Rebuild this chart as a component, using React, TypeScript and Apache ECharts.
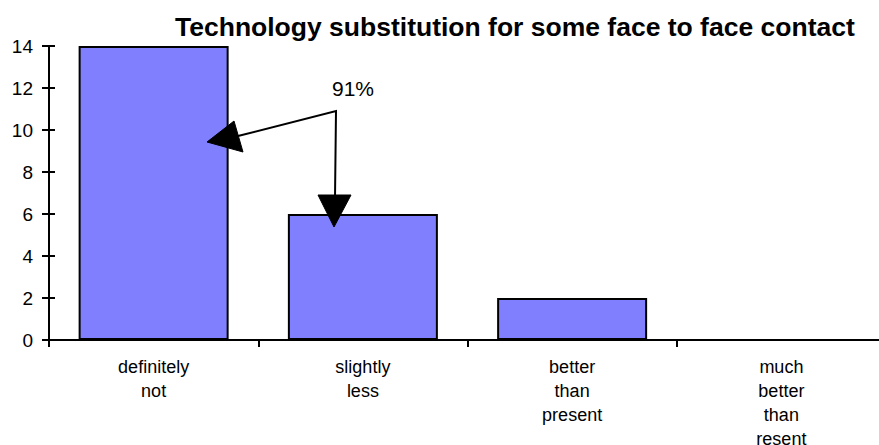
import React, { useEffect, useRef } from "react";
import * as echarts from "echarts";

const categories = [
  "definitely\nnot",
  "slightly\nless",
  "better\nthan\npresent",
  "much\nbetter\nthan\nresent",
];
const counts = [14, 6, 2, 0];
const yMin = 0;
const yMax = 14;
const yStep = 2;
const titleText = "Technology substitution for some face to face contact";
const calloutText = "91%";

const FONT = "'Liberation Sans', Arial, Helvetica, sans-serif";

export default function App() {
  const ref = useRef<HTMLDivElement>(null);

  useEffect(() => {
    if (!ref.current) return;
    const chart = echarts.init(ref.current, undefined, { renderer: "svg" });

    const valueAxisBase = {
      type: "value" as const,
      min: yMin,
      max: yMax,
      interval: yStep,
      splitLine: { show: false },
      axisLine: { show: true, lineStyle: { color: "#000", width: 2 } },
    };
    const catAxisBase = {
      type: "category" as const,
      data: categories,
      boundaryGap: true,
      axisLine: { show: true, lineStyle: { color: "#000", width: 2 } },
    };
    const tickStyle = { color: "#000", width: 2 };

    chart.setOption({
      animation: false,
      backgroundColor: "#fff",
      title: {
        text: titleText,
        left: 170,
        top: 8,
        textStyle: {
          fontFamily: FONT,
          fontWeight: "bold",
          fontSize: 26.5,
          color: "#000",
        },
      },
      grid: {
        left: 49,
        top: 46,
        right: -7,
        bottom: 105,
        containLabel: false,
        outerBoundsMode: "none",
      },
      xAxis: [
        {
          ...catAxisBase,
          axisTick: { show: true, inside: false, length: 7, lineStyle: tickStyle },
          axisLabel: {
            margin: 15,
            fontFamily: FONT,
            fontSize: 18,
            lineHeight: 24,
            color: "#000",
            interval: 0,
          },
        },
        {
          ...catAxisBase,
          axisTick: { show: true, inside: true, length: 6, lineStyle: tickStyle },
          axisLabel: { show: false },
        },
      ],
      yAxis: [
        {
          ...valueAxisBase,
          axisTick: { show: true, inside: false, length: 7, lineStyle: tickStyle },
          axisLabel: {
            margin: 16,
            fontFamily: FONT,
            fontSize: 19,
            color: "#000",
          },
        },
        {
          ...valueAxisBase,
          position: "left",
          axisTick: { show: true, inside: true, length: 6, lineStyle: tickStyle },
          axisLabel: { show: false },
        },
      ],
      series: [
        {
          type: "bar",
          data: counts,
          xAxisIndex: 0,
          yAxisIndex: 0,
          barWidth: 150,
          itemStyle: {
            color: "#8080FF",
            borderColor: "#000",
            borderWidth: 2,
          },
          z: 1,
        },
      ],
      graphic: [
        {
          type: "text",
          x: 353,
          y: 88,
          style: {
            text: calloutText,
            fontFamily: FONT,
            fontSize: 21,
            fill: "#000",
            align: "center",
            verticalAlign: "middle",
          },
          z: 100,
        },
        {
          type: "polyline",
          shape: {
            points: [
              [238, 136],
              [336, 111],
              [335, 198],
            ],
          },
          style: { stroke: "#000", lineWidth: 2, fill: null },
          z: 100,
        },
        {
          type: "polygon",
          shape: {
            points: [
              [207, 142],
              [234, 121],
              [243, 152],
            ],
          },
          style: { fill: "#000", stroke: "#000", lineWidth: 1 },
          z: 100,
        },
        {
          type: "polygon",
          shape: {
            points: [
              [334, 227],
              [318, 195],
              [351, 195],
            ],
          },
          style: { fill: "#000", stroke: "#000", lineWidth: 1 },
          z: 100,
        },
      ],
    });

    return () => chart.dispose();
  }, []);

  return (
    <div
      ref={ref}
      style={{
        position: "fixed",
        left: 0,
        top: 0,
        width: 879,
        height: 445,
        background: "#fff",
      }}
    />
  );
}
